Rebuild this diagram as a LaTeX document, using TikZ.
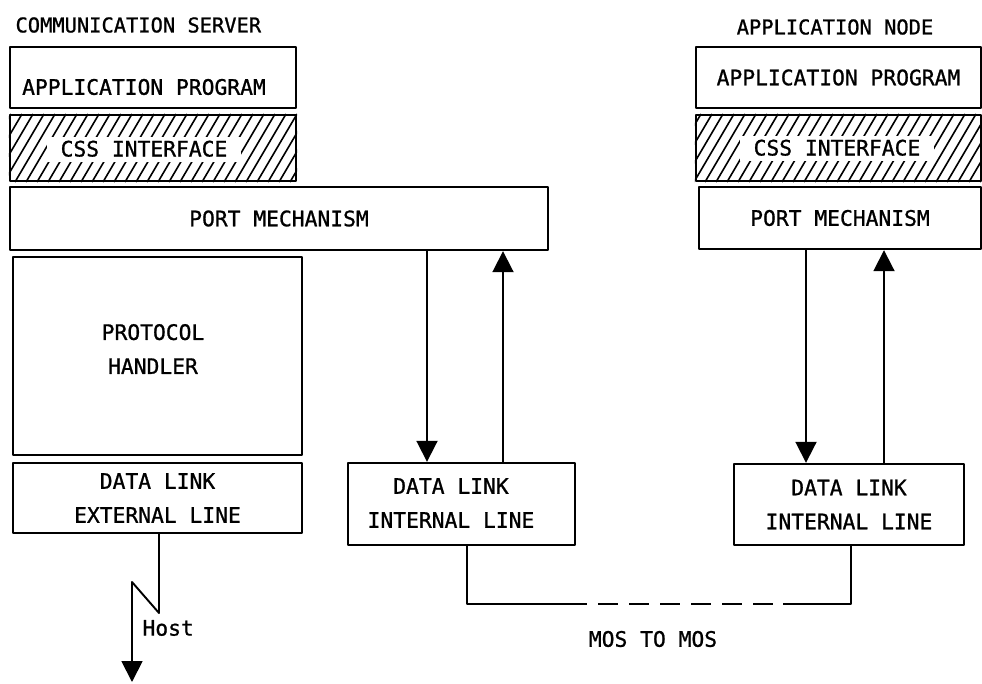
\documentclass[tikz,border=0pt]{standalone}
\usepackage{fontspec}
\newfontfamily\plotter[FakeBold=1]{DejaVu Sans Mono}
\usetikzlibrary{arrows.meta}

\begin{document}
\begin{tikzpicture}[x=1pt,y=-1pt,line join=round,
	font=\plotter\fontsize{21.3}{34}\selectfont,
	every node/.style={align=center},
	stackbox/.style={draw,line width=2.4pt,inner sep=0pt},
	title/.style={font=\plotter\fontsize{20.4}{24}\selectfont},
	hatch/.style={line width=1.6pt},
	clear/.style={fill=white,inner xsep=14pt,inner ysep=5pt,text height=15pt,text depth=0pt},
	flow/.style={line width=1.9pt,-{Triangle[length=21pt,width=21pt]}},
	link/.style={line width=1.9pt}]
	\useasboundingbox (0,0) rectangle (982,683);

	% communication server
	\node[title,anchor=west] (cstitle) at (12,25) {COMMUNICATION SERVER};
	\node[stackbox,minimum width=286,minimum height=61] (csapp) at (153,77.5) {};
	\node (csapptext) at (144,87) {APPLICATION PROGRAM};
	\node[stackbox,minimum width=286,minimum height=66] (cscss) at (153,148) {};
	\begin{scope}
	\clip (cscss.south west) rectangle (cscss.north east);
	\foreach \x in {-40,-29,...,300} \draw[hatch] (\x,182) -- (\x+40,114);
	\end{scope}
	\node[clear] (csstext) at (144,149) {CSS INTERFACE};
	\node[stackbox,minimum width=538,minimum height=63] (csport) at (279,218.5) {PORT MECHANISM};
	\node[stackbox,minimum width=289,minimum height=198] (proto) at (157.5,356) {};
	\node (prototext) at (153,349) {PROTOCOL\\HANDLER};
	\node[stackbox,minimum width=289,minimum height=70] (dlext) at (157.5,498) {DATA LINK\\EXTERNAL LINE};
	\node[stackbox,minimum width=227,minimum height=82] (dlmid) at (461.5,504) {};
	\node (dlmidtext) at (451,503) {DATA LINK\\INTERNAL LINE};

	% application node
	\node[title] (antitle) at (835,27) {APPLICATION NODE};
	\node[stackbox,minimum width=285,minimum height=61] (anapp) at (838.5,77.5) {APPLICATION PROGRAM};
	\node[stackbox,minimum width=285,minimum height=66] (ancss) at (838.5,148) {};
	\begin{scope}
	\clip (ancss.south west) rectangle (ancss.north east);
	\foreach \x in {650,661,...,990} \draw[hatch] (\x,182) -- (\x+40,114);
	\end{scope}
	\node[clear] (ancsstext) at (837,148) {CSS INTERFACE};
	\node[stackbox,minimum width=282,minimum height=62] (anport) at (840,218) {PORT MECHANISM};
	\node[stackbox,minimum width=230,minimum height=81] (andl) at (849,504.5) {DATA LINK\\INTERNAL LINE};

	% port <-> data link
	\coordinate (csdown) at (427,0);
	\coordinate (csup) at (503,0);
	\coordinate (andown) at (806,0);
	\coordinate (anup) at (884,0);
	\draw[flow] (csdown |- csport.south) -- (csdown |- dlmid.north);
	\draw[flow] (csup |- dlmid.north) -- (csup |- csport.south);
	\draw[flow] (andown |- anport.south) -- (andown |- andl.north);
	\draw[flow] (anup |- andl.north) -- (anup |- anport.south);

	% host line
	\coordinate (hostA) at (159,613);
	\coordinate (hostB) at (132,582);
	\coordinate (host) at (132,682);
	\draw[flow] (dlext.south -| hostA) -- (hostA) -- (hostB) -- (host);
	\node[anchor=west] (hostlabel) at (139,628) {Host};

	% mos to mos
	\coordinate (mosL) at (467,604);
	\coordinate (mosR) at (851,604);
	\coordinate (dashA) at (587,604);
	\coordinate (dashB) at (783,604);
	\draw[link] (dlmid.south -| mosL) -- (mosL) -- (dashA);
	\draw[link,dash pattern=on 20pt off 11pt] ([xshift=11pt]dashA) -- ([xshift=-10pt]dashB);
	\draw[link] (dashB) -- (mosR) -- (andl.south -| mosR);
	\node (mostext) at (653,639) {MOS TO MOS};
\end{tikzpicture}
\end{document}
